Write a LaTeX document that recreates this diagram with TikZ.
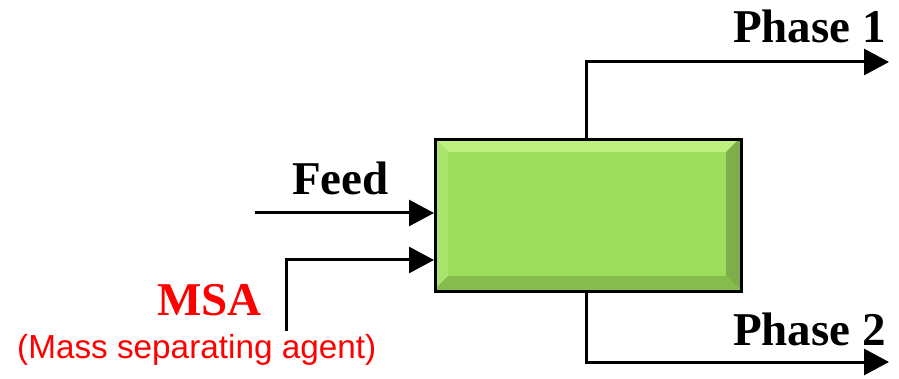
\documentclass[tikz,border=0pt]{standalone}
\usepackage{fontspec}
\setmainfont{Liberation Serif}
\newfontfamily\sansf{Liberation Sans}
\usetikzlibrary{arrows.meta}
\definecolor{boxgreen}{HTML}{9EDE5C}
\definecolor{bevtop}{HTML}{BDF081}
\definecolor{bevleft}{HTML}{AAE46E}
\definecolor{bevright}{HTML}{7DAE4A}
\definecolor{bevbot}{HTML}{86BC4E}
\definecolor{msared}{HTML}{FF0000}
\tikzset{
  flow/.style={line width=3pt,-{Triangle[length=25pt,width=26pt]}},
  lbl/.style={font=\fontsize{47}{50}\selectfont\bfseries,inner sep=0pt},
}
\begin{document}
\begin{tikzpicture}[x=1pt,y=-1pt]
\useasboundingbox (0,0) rectangle (899,379);
% box with bevel
\fill[boxgreen] (434,138) rectangle (740,290);
\fill[bevtop] (434,138) -- (740,138) -- (726,152) -- (448,152) -- cycle;
\fill[bevleft] (434,138) -- (448,152) -- (448,276) -- (434,290) -- cycle;
\fill[bevright] (740,138) -- (740,290) -- (726,276) -- (726,152) -- cycle;
\fill[bevbot] (434,290) -- (740,290) -- (726,276) -- (448,276) -- cycle;
\node[draw=black,line width=3pt,minimum width=306pt,minimum height=152pt,inner sep=0pt,anchor=north west] (box) at (434,138) {};
% coordinates
\coordinate (fs) at (255,213);
\coordinate (fe) at (434,213);
\coordinate (ms) at (286,331);
\coordinate (me) at (434,260);
\coordinate (p1s) at (586,138);
\coordinate (p1e) at (889,62);
\coordinate (p2s) at (586,290);
\coordinate (p2e) at (889,362);
\draw[flow] (fs) -- (fe);
\draw[flow] (ms) |- (me);
\draw[flow] (p1s) |- (p1e);
\draw[flow] (p2s) |- (p2e);
% labels
\node[lbl,anchor=base east] (ph1) at (886,43) {Phase 1};
\node[lbl,anchor=base east] (ph2) at (886,345) {Phase 2};
\node[lbl,anchor=base west] (feed) at (292,195) {Feed};
\node[lbl,anchor=base west,text=msared] (msa) at (157,315) {MSA};
\node[inner sep=0pt,anchor=base west,text=msared,font=\sansf\fontsize{33.3}{35}\selectfont] (msadesc) at (17,358) {(Mass separating agent)};
\end{tikzpicture}
\end{document}
